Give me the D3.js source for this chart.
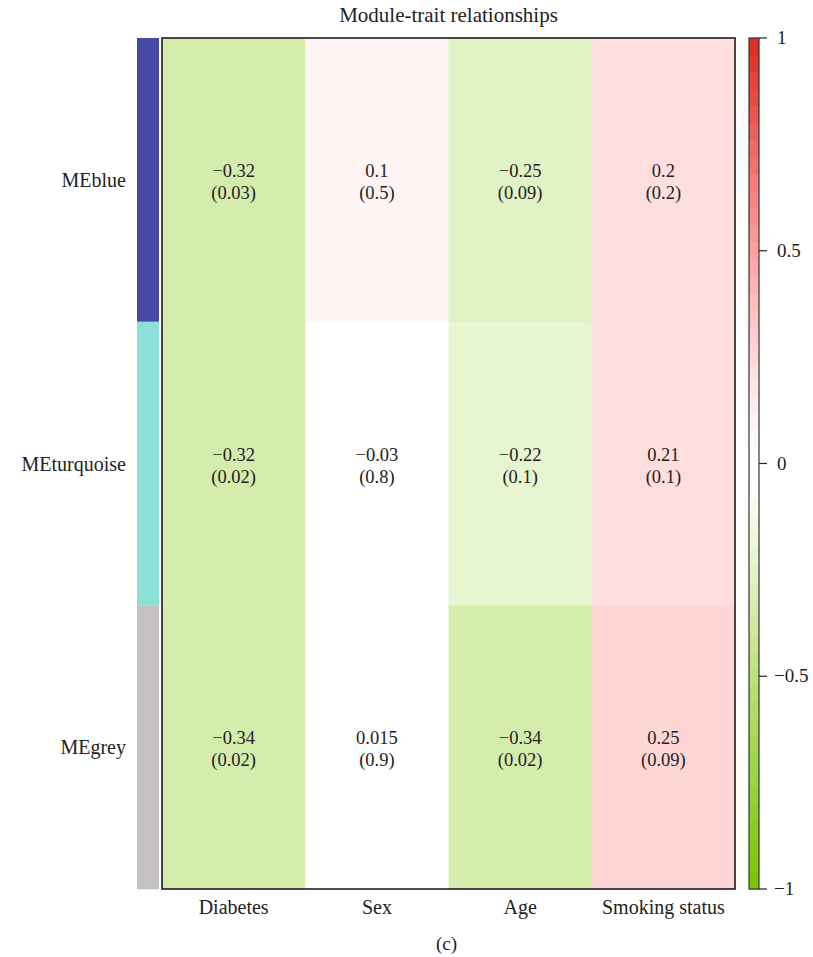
<!DOCTYPE html>
<html><head><meta charset="utf-8">
<script src="https://cdn.jsdelivr.net/npm/d3@7"></script>
<style>body{margin:0;background:#fff;}</style>
</head><body>
<svg id="c" width="813" height="957"></svg>
<script>
const modules = ["MEblue","MEturquoise","MEgrey"];
const moduleColors = ["#474BA6","#8CE0D8","#C6C1C1"];
const traits = ["Diabetes","Sex","Age","Smoking status"];
const corr = [
  [-0.32, 0.1, -0.25, 0.2],
  [-0.32, -0.03, -0.22, 0.21],
  [-0.34, 0.015, -0.34, 0.25]
];
const pvals = [
  ["0.03","0.5","0.09","0.2"],
  ["0.02","0.8","0.1","0.1"],
  ["0.02","0.9","0.02","0.09"]
];
const corrLabels = [
  ["−0.32","0.1","−0.25","0.2"],
  ["−0.32","−0.03","−0.22","0.21"],
  ["−0.34","0.015","−0.34","0.25"]
];
const legendTicks = [1, 0.5, 0, -0.5, -1];
const legendTickLabels = ["1","0.5","0","−0.5","−1"];

const FONT = "'Liberation Serif','Times New Roman',serif";
const svg = d3.select("#c").style("font-family", FONT);
const L = 162, R = 735, T = 38, B = 889;
const x = d3.scaleBand().domain(traits).range([L, R]);
const y = d3.scaleBand().domain(modules).range([T, B]);
// diverging colour scale (white band around zero, gamma-compressed)
const pos = d3.scaleLinear().domain([0, 0.45, 1]).range(["#FFFFFF", "#FF9A9A", "#DC2A1E"]);
const neg = d3.scaleLinear().domain([0, 0.45, 1]).range(["#FFFFFF", "#B6E070", "#76C400"]);
const color = v => {
  const a = Math.max(0, Math.min(1, Math.abs(v)) - 0.02) / 0.98;
  const t = Math.pow(a, 1.2);
  return v >= 0 ? pos(t) : neg(t);
};
const quant = v => color(-1 + (Math.min(49, Math.floor((v + 1) / 0.04)) + 0.5) * 0.04);

// title
svg.append("text").attr("x",(L+R)/2).attr("y",22).attr("text-anchor","middle")
  .attr("font-family",FONT).style("font-size","21px").attr("fill","#222").text("Module-trait relationships");

// cells
const cells = [];
modules.forEach((m,i)=>traits.forEach((t,j)=>cells.push({m,t,v:corr[i][j],lab:corrLabels[i][j],p:pvals[i][j]})));
svg.append("g").selectAll("rect").data(cells).join("rect")
  .attr("x",d=>x(d.t)).attr("y",d=>y(d.m)).attr("width",x.bandwidth()+0.5).attr("height",y.bandwidth()+0.5)
  .attr("fill",d=>quant(d.v));
const tg = svg.append("g").selectAll("text").data(cells).join("text")
  .attr("text-anchor","middle").attr("font-family",FONT).style("font-size","18.5px").attr("fill","#222");
tg.append("tspan").attr("x",d=>x(d.t)+x.bandwidth()/2).attr("y",d=>y(d.m)+y.bandwidth()/2-3).text(d=>d.lab);
tg.append("tspan").attr("x",d=>x(d.t)+x.bandwidth()/2).attr("y",d=>y(d.m)+y.bandwidth()/2+19).text(d=>"("+d.p+")");

// border
svg.append("rect").attr("x",L).attr("y",T).attr("width",R-L).attr("height",B-T)
  .attr("fill","none").attr("stroke","#111").attr("stroke-width",1.5);

// side module colours
svg.append("g").selectAll("rect").data(modules).join("rect")
  .attr("x",137).attr("width",22).attr("y",d=>y(d)).attr("height",y.bandwidth()+0.3)
  .attr("fill",(d,i)=>moduleColors[i]);
svg.append("g").selectAll("text").data(modules).join("text")
  .attr("x",126).attr("y",d=>y(d)+y.bandwidth()/2+7).attr("text-anchor","end")
  .attr("font-family",FONT).style("font-size","20px").attr("fill","#222").text(d=>d);

// column labels
svg.append("g").selectAll("text").data(traits).join("text")
  .attr("x",d=>x(d)+x.bandwidth()/2).attr("y",914).attr("text-anchor","middle")
  .attr("font-family",FONT).style("font-size","20px").attr("fill","#222").text(d=>d);

// colour legend
const ly = d3.scaleLinear().domain([-1,1]).range([B, T]);
const nSteps = 50;
const steps = d3.range(nSteps).map(k => -1 + (k+0.5)*2/nSteps);
svg.append("g").selectAll("rect").data(steps).join("rect")
  .attr("x",749).attr("width",10)
  .attr("y",d=>ly(d+1/nSteps)).attr("height",ly(-1)-ly(-1+2/nSteps)+0.5)
  .attr("fill",d=>color(d));
svg.append("rect").attr("x",749).attr("y",T).attr("width",10).attr("height",B-T)
  .attr("fill","none").attr("stroke","#333").attr("stroke-width",1.2);
const lg = svg.append("g");
lg.selectAll("line").data(legendTicks).join("line")
  .attr("x1",759).attr("x2",767).attr("y1",d=>ly(d)).attr("y2",d=>ly(d))
  .attr("stroke","#222").attr("stroke-width",1.2);
lg.selectAll("text").data(legendTicks).join("text")
  .attr("x",d=>d<0?774:777).attr("y",d=>ly(d)+6)
  .attr("font-family",FONT).style("font-size","19px").attr("fill","#222")
  .text((d,i)=>legendTickLabels[i]);

// panel label
svg.append("text").attr("x",(L+R)/2-2).attr("y",950).attr("text-anchor","middle")
  .attr("font-family",FONT).style("font-size","19px").attr("fill","#222").text("(c)");
</script>
</body></html>
